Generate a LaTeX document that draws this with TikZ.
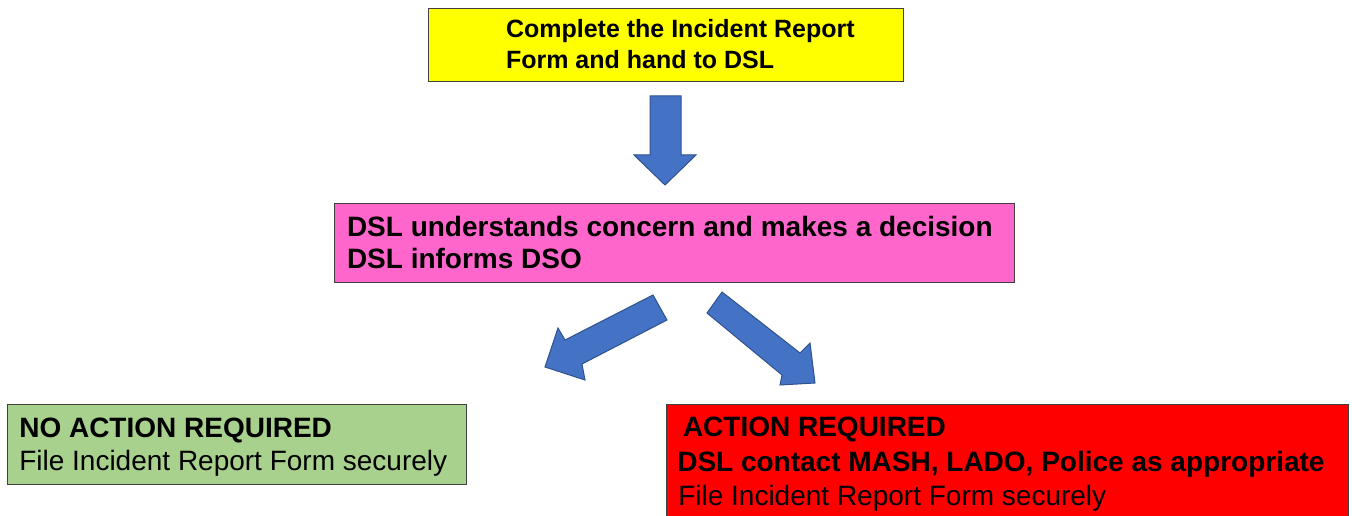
\documentclass[tikz,border=0pt]{standalone}
\usepackage{fontspec}
\setmainfont{Liberation Sans}
\definecolor{yellowbox}{HTML}{FFFF00}
\definecolor{pinkbox}{HTML}{FF66CC}
\definecolor{greenbox}{HTML}{A9D18E}
\definecolor{redbox}{HTML}{FF0000}
\definecolor{boxline}{HTML}{404040}
\definecolor{arrowfill}{HTML}{4472C4}
\definecolor{arrowline}{HTML}{2F528F}
\begin{document}
\begin{tikzpicture}[x=1pt,y=-1pt,
  box/.style={draw=boxline, line width=1pt, inner sep=0pt, outer sep=0pt, anchor=north west},
  txt/.style={anchor=base west, inner sep=0pt, outer sep=0pt, text=black},
  bigbold/.style={txt, font=\fontsize{28}{34}\selectfont\bfseries},
  bigreg/.style={txt, font=\fontsize{28}{34}\selectfont},
  topbold/.style={txt, font=\fontsize{25}{30}\selectfont\bfseries},
  blockarrow/.style={fill=arrowfill, draw=arrowline, line width=1pt, line join=miter}]
\useasboundingbox (0,0) rectangle (1352,516);
\clip (0,0) rectangle (1352,516);

% boxes
\node[box, fill=yellowbox, minimum width=475pt, minimum height=73pt] (form) at (428,9) {};
\node[box, fill=pinkbox, minimum width=680pt, minimum height=79pt] (decide) at (334,203) {};
\node[box, fill=greenbox, minimum width=459pt, minimum height=80pt] (noaction) at (7,404) {};
\node[box, fill=redbox, minimum width=682pt, minimum height=130pt] (action) at (666,404) {};

% texts
\node[topbold] (t1a) at (506,37.5) {Complete the Incident Report};
\node[topbold] (t1b) at (506,69) {Form and hand to DSL};
\node[bigbold] (t2a) at (347,236) {DSL understands concern and makes a decision};
\node[bigbold] (t2b) at (347,268) {DSL informs DSO};
\node[bigbold] (t3a) at (19.3,437.5) {NO ACTION REQUIRED};
\node[bigreg] (t3b) at (19.3,470.5) {File Incident Report Form securely};
\node[bigbold] (t4a) at (683,436) {ACTION REQUIRED};
\node[bigbold] (t4b) at (677.3,471.5) {DSL contact MASH, LADO, Police as appropriate};
\node[bigreg] (t4c) at (678.3,505.3) {File Incident Report Form securely};

% block arrows
\draw[blockarrow] (650,96) -- (681,96) -- (681,155) -- (696,155) -- (665,185) -- (634,155) -- (650,155) -- cycle;
\draw[blockarrow] (653,295) -- (667,320) -- (582,364) -- (585,380) -- (545,367) -- (558,328) -- (565,340) -- cycle;
\draw[blockarrow] (722,292) -- (800,353) -- (810,343) -- (815,383) -- (780,385) -- (782,375) -- (707,313) -- cycle;
\end{tikzpicture}
\end{document}
